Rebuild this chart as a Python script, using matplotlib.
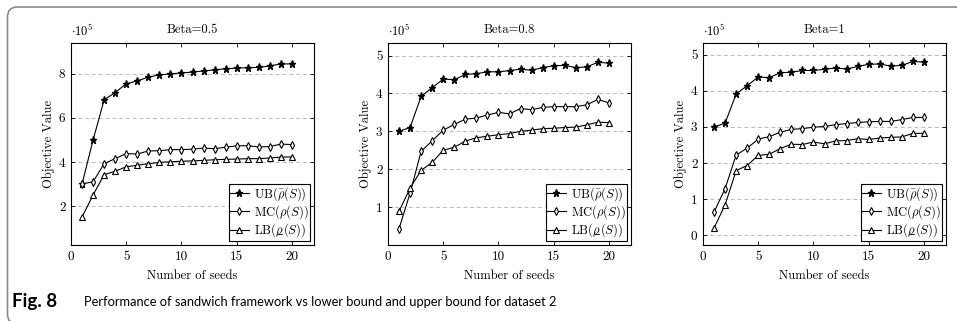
import numpy as np
import matplotlib
matplotlib.use('Agg')
import matplotlib.pyplot as plt
from matplotlib.patches import PathPatch
from matplotlib.path import Path
from matplotlib.mathtext import MathTextParser

plt.rcParams['font.family'] = 'cmr10'
plt.rcParams['mathtext.fontset'] = 'cm'
plt.rcParams['axes.formatter.use_mathtext'] = True

seeds = list(range(1, 21))

# values in units of 1e5
ub_05 = [3.0, 5.0, 6.82, 7.15, 7.55, 7.68, 7.85, 7.95, 8.0, 8.04, 8.08, 8.13, 8.18, 8.23, 8.26, 8.28, 8.29, 8.36, 8.45, 8.45]
mc_05 = [3.0, 3.1, 3.92, 4.15, 4.38, 4.36, 4.5, 4.51, 4.56, 4.56, 4.58, 4.63, 4.6, 4.67, 4.73, 4.74, 4.68, 4.7, 4.81, 4.79]
lb_05 = [1.5, 2.5, 3.42, 3.58, 3.78, 3.85, 3.92, 3.98, 4.01, 4.03, 4.05, 4.07, 4.1, 4.12, 4.13, 4.15, 4.15, 4.18, 4.22, 4.23]

ub_08 = [3.0, 3.1, 3.92, 4.15, 4.38, 4.36, 4.5, 4.52, 4.57, 4.57, 4.6, 4.64, 4.61, 4.68, 4.73, 4.74, 4.68, 4.7, 4.82, 4.8]
mc_08 = [0.43, 1.37, 2.47, 2.75, 3.03, 3.18, 3.32, 3.35, 3.43, 3.5, 3.46, 3.6, 3.57, 3.63, 3.65, 3.65, 3.65, 3.7, 3.84, 3.75]
lb_08 = [0.89, 1.5, 1.97, 2.18, 2.5, 2.58, 2.74, 2.83, 2.87, 2.91, 2.94, 3.0, 3.03, 3.07, 3.08, 3.1, 3.11, 3.17, 3.24, 3.23]

ub_1 = [3.0, 3.1, 3.91, 4.14, 4.38, 4.36, 4.5, 4.51, 4.56, 4.56, 4.59, 4.63, 4.6, 4.67, 4.73, 4.74, 4.68, 4.7, 4.81, 4.79]
mc_1 = [0.64, 1.29, 2.22, 2.41, 2.66, 2.73, 2.85, 2.93, 2.95, 2.99, 3.01, 3.06, 3.09, 3.12, 3.14, 3.15, 3.15, 3.2, 3.26, 3.26]
lb_1 = [0.2, 0.84, 1.79, 1.93, 2.21, 2.24, 2.4, 2.52, 2.51, 2.58, 2.53, 2.61, 2.62, 2.67, 2.65, 2.69, 2.71, 2.72, 2.82, 2.82]

titles = ['Beta=0.5', 'Beta=0.8', 'Beta=1']
yticks = [[2, 4, 6, 8], [1, 2, 3, 4, 5], [0, 1, 2, 3, 4, 5]]
ylims = [(0.23, 9.4), (0.0, 5.33), (-0.27, 5.32)]
xticks = [0, 5, 10, 15, 20]

# underlined rho: mathtext has no \underline, so fake it
lb_label = r'LB($\rho\hspace{-0.52}\_\hspace{0.02}(S)$)'
try:
    MathTextParser('path').parse(lb_label[3:-1])
except Exception:
    lb_label = r'LB($\rho(S)$)'

fig = plt.figure(figsize=(9.57, 3.21), dpi=100)

lefts = [71, 388, 703]
W, H = 957, 321
data = [(ub_05, mc_05, lb_05), (ub_08, mc_08, lb_08), (ub_1, mc_1, lb_1)]

for i in range(3):
    ax = fig.add_axes([lefts[i] / W, (H - 245) / H, 243 / W, 202 / H])
    ub, mc, lb = data[i]
    ax.plot(seeds, ub, color='black', lw=0.8, marker='*', ms=5.2, mfc='black', mec='black',
            label=r'UB($\bar{\rho}(S)$)')
    ax.plot(seeds, mc, color='black', lw=0.8, marker='d', ms=4.2, mfc='white', mec='black', mew=0.8,
            label=r'MC($\rho(S)$)')
    ax.plot(seeds, lb, color='black', lw=0.8, marker='^', ms=4.2, mfc='white', mec='black', mew=0.8,
            label=lb_label)
    ax.set_xlim(0, 22)
    ax.set_ylim(*ylims[i])
    ax.set_xticks(xticks)
    ax.set_xticklabels([str(t) for t in xticks])
    ax.set_yticks(yticks[i])
    ax.set_yticklabels([str(t) for t in yticks[i]])
    ax.tick_params(direction='in', top=True, right=True, labelsize=9.5, length=3, width=0.6, pad=4)
    ax.grid(axis='y', ls=(0, (4, 3)), color='#bbbbbb', lw=0.7)
    ax.set_axisbelow(True)
    for s in ax.spines.values():
        s.set_linewidth(0.8)
    ax.set_title(titles[i], fontsize=9, pad=7.5)
    ax.set_xlabel('Number of seeds', fontsize=9, labelpad=5)
    ax.set_ylabel('Objective Value', fontsize=9, labelpad=3)
    ax.text(0.0, 1.02, r'$\cdot 10^5$', transform=ax.transAxes, fontsize=9, ha='left', va='bottom')
    leg = ax.legend(loc='lower right', fontsize=9, fancybox=False, edgecolor='black',
                    framealpha=1, borderaxespad=0.35, handlelength=1.5, handletextpad=0.4,
                    borderpad=0.1, labelspacing=0.05)
    leg.get_frame().set_linewidth(0.8)

# frame around the figure: left and top edges with rounded corners (inches)
x0, ytop, r, ybot = 0.075, 3.14, 0.1, -0.03
verts = [(x0 + r, ybot), (x0, ybot), (x0, ybot + r),
         (x0, ytop - r), (x0, ytop), (x0 + r, ytop), (9.8, ytop)]
codes = [Path.MOVETO, Path.CURVE3, Path.CURVE3,
         Path.LINETO, Path.CURVE3, Path.CURVE3, Path.LINETO]
frame = PathPatch(Path(verts, codes), transform=fig.dpi_scale_trans, fill=False,
                  ec='#8a8a8a', lw=1.2)
fig.add_artist(frame)

fig.text(12 / W, (H - 306.5) / H, 'Fig. 8', fontsize=13.5, fontweight='bold',
         family='Lato', va='baseline', ha='left')
fig.text(84 / W, (H - 306.5) / H,
         'Performance of sandwich framework vs lower bound and upper bound for dataset 2',
         fontsize=9.3, family='Lato', va='baseline', ha='left')

fig.savefig('out.png', dpi=100)
